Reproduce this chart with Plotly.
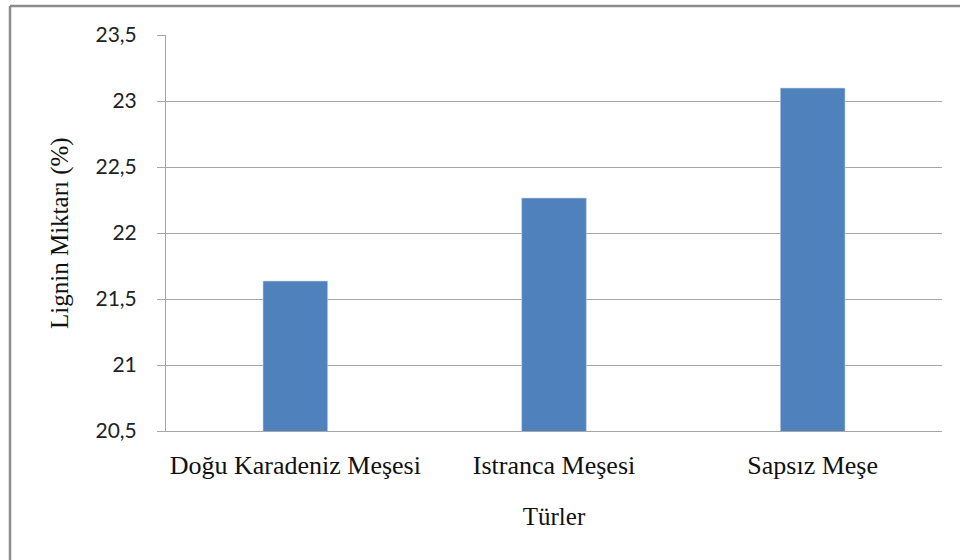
import plotly.graph_objects as go

categories = ["Doğu Karadeniz Meşesi", "Istranca Meşesi", "Sapsız Meşe"]
lignin = [21.636, 22.265, 23.098]
y_ticks = [20.5, 21, 21.5, 22, 22.5, 23, 23.5]
y_tick_labels = ["20,5", "21", "21,5", "22", "22,5", "23", "23,5"]
y_title = "Lignin Miktarı (%)"
x_title = "Türler"

fig = go.Figure()
fig.add_trace(go.Bar(
    x=categories, y=lignin,
    marker=dict(color="#4F81BD", line=dict(color="#C5D4EA", width=0.6)),
))

L, R, T, B = 166, 18, 35, 129
W, H = 960, 560
pw, ph = W - L - R, H - T - B

serif = "Liberation Serif, Times New Roman, serif"

fig.update_layout(
    width=W, height=H,
    margin=dict(l=L, r=R, t=T, b=B, pad=0),
    paper_bgcolor="white", plot_bgcolor="white",
    showlegend=False,
    bargap=0.75,
)
fig.update_yaxes(
    range=[20.5, 23.5],
    tickvals=y_ticks, ticktext=y_tick_labels,
    tickfont=dict(family="Lato, Open Sans, sans-serif", size=21, color="#222"),
    showgrid=True, gridcolor="#A6A6A6", gridwidth=1,
    showline=True, linecolor="#A6A6A6", linewidth=1,
    ticks="outside", ticklen=8, tickcolor="#A6A6A6",
    ticklabelstandoff=16,
    zeroline=False,
)
fig.update_xaxes(
    showline=True, linecolor="#A6A6A6", linewidth=1,
    ticks="", showgrid=False,
    tickfont=dict(family=serif, size=26, color="#111"),
    ticklabelstandoff=11,
    title=dict(text=x_title, standoff=28,
               font=dict(family=serif, size=25, color="#111")),
)

# y axis title placed at its pixel position
fig.add_annotation(
    text=y_title, textangle=-90, showarrow=False,
    xref="paper", yref="paper",
    x=(60 - L) / pw, y=(H - B - 233) / ph,
    xanchor="center", yanchor="middle",
    font=dict(family=serif, size=25, color="#111"),
)

# outer chart frame (left and top edges visible)
x_left = (10 - L) / pw
x_right = (W + 5 - L) / pw
y_top = (H - B - 6) / ph
y_bottom = (H - B - (H + 5)) / ph
fig.add_shape(type="line", xref="paper", yref="paper",
              x0=x_left, x1=x_left, y0=y_bottom, y1=y_top,
              line=dict(color="#8C8C8C", width=2.5))
fig.add_shape(type="line", xref="paper", yref="paper",
              x0=x_left, x1=x_right, y0=y_top, y1=y_top,
              line=dict(color="#8C8C8C", width=2.5))

fig.write_html("out.html", config={"displayModeBar": False},
               post_script="document.body.style.margin='0';")
